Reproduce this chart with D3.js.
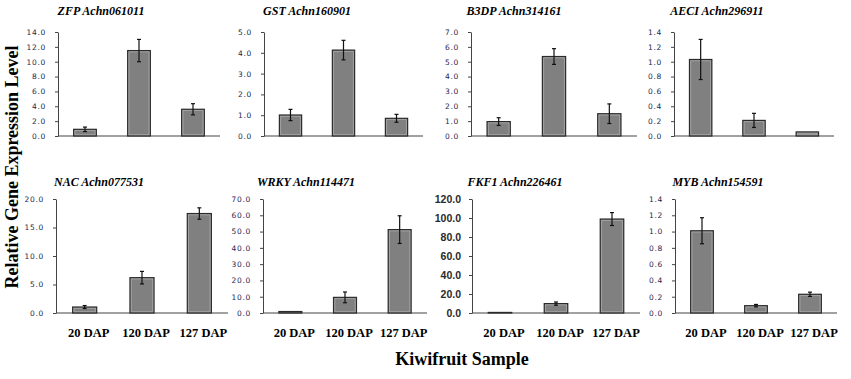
<!DOCTYPE html>
<html>
<head>
<meta charset="utf-8">
<script src="https://cdn.jsdelivr.net/npm/d3@7"></script>
<style>
  body { margin: 0; background: #fff; }
  svg { display: block; }
</style>
</head>
<body>
<div id="chart-area"></div>
<script>
// Data
const genes = ["ZFP Achn061011", "GST Achn160901", "B3DP Achn314161", "AECI Achn296911",
               "NAC Achn077531", "WRKY Achn114471", "FKF1 Achn226461", "MYB Achn154591"];
const samples = ["20 DAP", "120 DAP", "127 DAP"];
const means = [
    [0.9, 11.5, 3.6],
    [1.01, 4.13, 0.85],
    [0.97, 5.35, 1.5],
    [1.03, 0.21, 0.055],
    [1.05, 6.2, 17.45],
    [0.9, 9.6, 51.2],
    [0.6, 9.9, 98.9],
    [1.01, 0.09, 0.23]
];
const errors = [
    [0.3, 1.5, 0.75],
    [0.27, 0.47, 0.19],
    [0.26, 0.53, 0.66],
    [0.27, 0.095, 0],
    [0.26, 1.1, 1.0],
    [0, 3.3, 8.5],
    [0, 1.7, 6.8],
    [0.16, 0.015, 0.026]
];
const yMax = [14, 5, 7, 1.4, 20, 70, 120, 1.4];
const yStep = [2, 1, 1, 0.2, 5, 10, 20, 0.2];

// Layout
const width = 851, height = 379;
const colLeft = [[58, 264, 471, 674], [56, 263, 472, 675]];
const colRight = [[220, 423, 637, 834], [228, 427, 640, 837]];
const rowZero = [136, 313];
const rowTop = [32, 199];
const titleY = [15, 186];

const svg = d3.select("div#chart-area").append("svg")
    .attr("width", width)
    .attr("height", height)
    .style("font-family", "'Liberation Serif', 'Times New Roman', serif");

genes.forEach((gene, i) => {
    const row = Math.floor(i / 4), col = i % 4;
    const x0 = colLeft[row][col], x1 = colRight[row][col];
    const isFKF = gene.startsWith("FKF1");

    const xScale = d3.scaleBand()
        .domain(samples)
        .range([x0, x1])
        .paddingInner(0.58)
        .paddingOuter(0.29);

    const yScale = d3.scaleLinear()
        .domain([0, yMax[i]])
        .range([rowZero[row], rowTop[row]]);

    const g = svg.append("g").attr("class", "panel");

    // title
    g.append("text")
        .attr("x", x0 + 43)
        .attr("y", titleY[row])
        .attr("text-anchor", "middle")
        .style("font-size", "12px")
        .style("font-weight", "bold")
        .style("font-style", "italic")
        .text(gene);

    // y-axis
    const ticks = d3.range(0, yMax[i] + yStep[i] / 2, yStep[i]);
    const yAxis = d3.axisLeft(yScale)
        .tickValues(ticks)
        .tickFormat(d3.format(".1f"))
        .tickSize(3)
        .tickSizeOuter(0)
        .tickPadding(isFKF ? 8 : 9);

    const ya = g.append("g")
        .attr("transform", "translate(" + x0 + ",0)")
        .call(yAxis);
    ya.select(".domain").attr("stroke", "#444");
    ya.selectAll(".tick line").attr("stroke", "#444");
    if (isFKF) {
        ya.selectAll(".tick text")
            .style("font-family", "'Liberation Sans', Arial, sans-serif")
            .style("font-size", "10.5px")
            .style("font-weight", "bold")
            .style("fill", "#2a2a2a");
    } else {
        ya.selectAll(".tick text")
            .style("font-family", "'DejaVu Sans', sans-serif")
            .style("font-size", "7.5px")
            .style("letter-spacing", "0.7px")
            .style("fill", "#262650");
    }

    // x-axis line
    g.append("line")
        .attr("x1", x0).attr("x2", x1)
        .attr("y1", yScale(0)).attr("y2", yScale(0))
        .attr("stroke", "#444")
        .attr("stroke-width", 1.2);

    // bars
    const data = samples.map((s, j) => ({sample: s, value: means[i][j], err: errors[i][j]}));

    g.selectAll("rect.bar")
        .data(data)
        .enter().append("rect")
        .attr("class", "bar")
        .attr("x", d => xScale(d.sample))
        .attr("y", d => yScale(d.value))
        .attr("width", xScale.bandwidth())
        .attr("height", d => yScale(0) - yScale(d.value))
        .attr("fill", "#808080")
        .attr("stroke", "#2b2b2b")
        .attr("stroke-width", 1.2);

    // lighter inner edge
    g.selectAll("rect.inner")
        .data(data.filter(d => yScale(0) - yScale(d.value) > 4))
        .enter().append("rect")
        .attr("class", "inner")
        .attr("x", d => xScale(d.sample) + 1.3)
        .attr("y", d => yScale(d.value) + 1.3)
        .attr("width", xScale.bandwidth() - 2.6)
        .attr("height", d => yScale(0) - yScale(d.value) - 2.6)
        .attr("fill", "none")
        .attr("stroke", "#a9a9a9")
        .attr("stroke-width", 0.8);

    // error bars
    const eb = g.selectAll("g.err")
        .data(data.filter(d => d.err > 0))
        .enter().append("g")
        .attr("class", "err");
    const cx = d => xScale(d.sample) + xScale.bandwidth() / 2;
    eb.append("line")
        .attr("x1", cx).attr("x2", cx)
        .attr("y1", d => yScale(d.value + d.err))
        .attr("y2", d => yScale(d.value - d.err))
        .attr("stroke", "#111").attr("stroke-width", 1.2);
    eb.append("line")
        .attr("x1", d => cx(d) - 2).attr("x2", d => cx(d) + 2)
        .attr("y1", d => yScale(d.value + d.err))
        .attr("y2", d => yScale(d.value + d.err))
        .attr("stroke", "#111").attr("stroke-width", 1.2);
    eb.append("line")
        .attr("x1", d => cx(d) - 2).attr("x2", d => cx(d) + 2)
        .attr("y1", d => yScale(d.value - d.err))
        .attr("y2", d => yScale(d.value - d.err))
        .attr("stroke", "#111").attr("stroke-width", 1.2);

    // sample labels on bottom row only
    if (row === 1) {
        g.selectAll("text.xlab")
            .data(samples)
            .enter().append("text")
            .attr("class", "xlab")
            .attr("x", d => xScale(d) + xScale.bandwidth() / 2 + 4)
            .attr("y", 337)
            .attr("text-anchor", "middle")
            .style("font-size", "12.5px")
            .style("font-weight", "bold")
            .text(d => d);
    }
});

// axis labels
svg.append("text")
    .attr("transform", "translate(18,167) rotate(-90)")
    .attr("text-anchor", "middle")
    .style("font-size", "18px")
    .style("font-weight", "bold")
    .text("Relative Gene Expression Level");

svg.append("text")
    .attr("x", 462)
    .attr("y", 365)
    .attr("text-anchor", "middle")
    .style("font-size", "18px")
    .style("font-weight", "bold")
    .text("Kiwifruit Sample");
</script>
</body>
</html>
